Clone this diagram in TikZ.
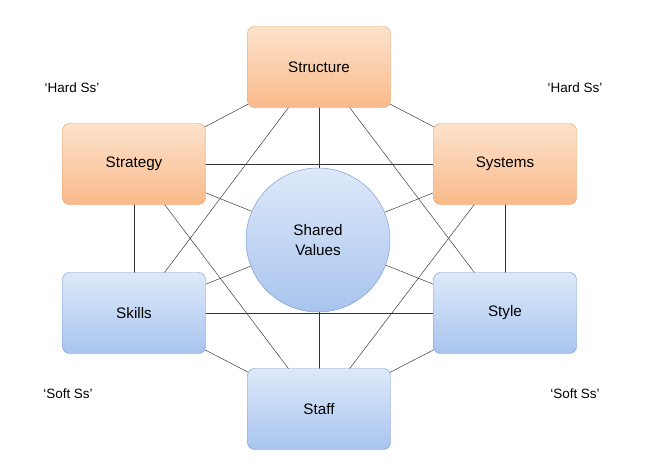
\documentclass[tikz,border=0pt]{standalone}
\usepackage{fontspec}
\setmainfont{Liberation Sans}
\usetikzlibrary{backgrounds}

\definecolor{hardtop}{RGB}{253,226,204}
\definecolor{hardbot}{RGB}{249,186,138}
\definecolor{hardline}{RGB}{236,160,100}
\definecolor{softtop}{RGB}{222,233,250}
\definecolor{softbot}{RGB}{168,196,238}
\definecolor{softline}{RGB}{120,155,210}

\begin{document}
\begin{tikzpicture}[x=0.03cm,y=-0.03cm,
  hardS/.style={draw=hardline,rounded corners=6pt,top color=hardtop,bottom color=hardbot,
    minimum width=143*0.03cm,minimum height=81*0.03cm,font=\fontsize{13}{15}\selectfont},
  softS/.style={draw=softline,rounded corners=6pt,top color=softtop,bottom color=softbot,
    minimum width=143*0.03cm,minimum height=81*0.03cm,font=\fontsize{13}{15}\selectfont},
  tag/.style={font=\fontsize{11.5}{14}\selectfont}]
\useasboundingbox (0,0) rectangle (656,465);

% outer boxes
\node[hardS] (structure) at (319,67) {Structure};
\node[hardS] (strategy) at (134,164) {Strategy};
\node[hardS] (systems) at (505,164) {Systems};
\node[softS] (skills) at (134,313) {Skills};
\node[softS] (style) at (505,313) {Style};
\node[softS] (staff) at (319,409) {Staff};

\node[circle,draw=softline,top color=softtop,bottom color=softbot,minimum size=144*0.03cm,
  align=center,font=\fontsize{13}{17}\selectfont] (shared) at (318,240) {Shared\\Values};

% every pair is joined, behind the boxes
\begin{scope}[on background layer]
\foreach \a/\b in {structure/strategy,structure/systems,structure/skills,structure/style,structure/staff,
  strategy/systems,strategy/skills,strategy/style,strategy/staff,
  systems/skills,systems/style,systems/staff,
  skills/style,skills/staff,style/staff}
  \draw[black!80] (\a.center)--(\b.center);
\end{scope}

\node[tag] (hardl) at (72,88) {‘Hard Ss’};
\node[tag] (hardr) at (575,88) {‘Hard Ss’};
\node[tag] (softl) at (68,394) {‘Soft Ss’};
\node[tag] (softr) at (575,394) {‘Soft Ss’};
\end{tikzpicture}
\end{document}
